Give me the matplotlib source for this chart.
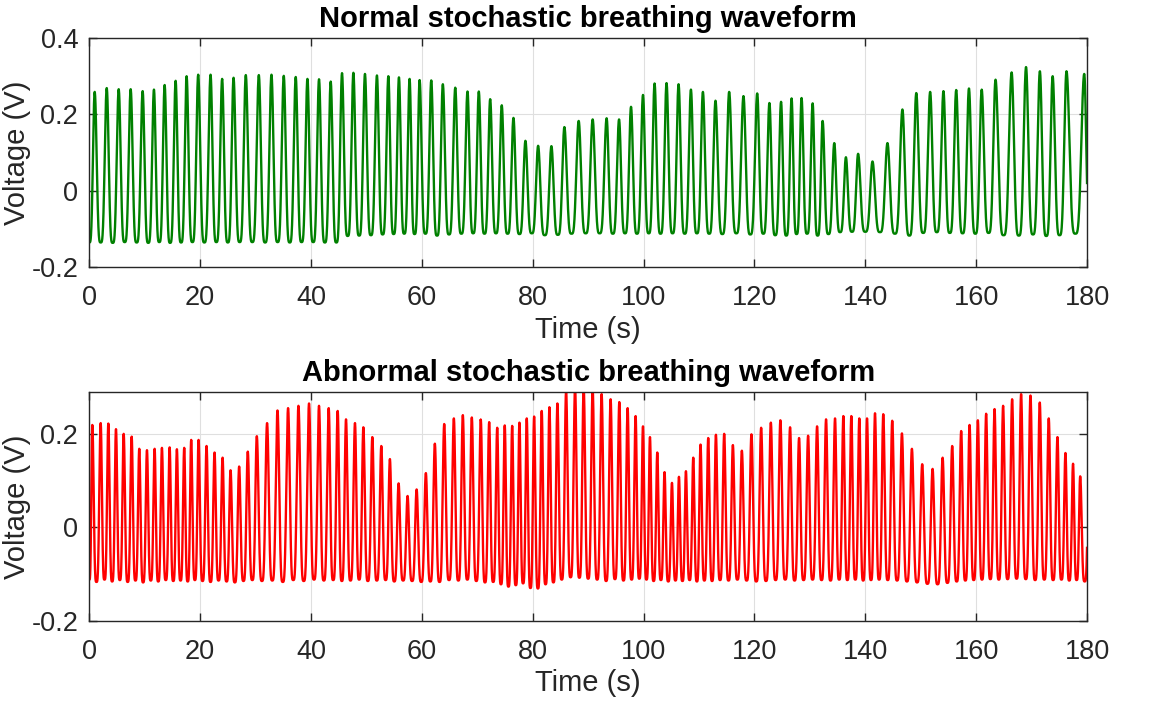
import numpy as np
import matplotlib
matplotlib.use('Agg')
import matplotlib.pyplot as plt

# normal breathing: peak times (s), peak voltages, trough after each peak
normal_peak_t = [0.97, 3.14, 5.30, 7.46, 9.62, 11.66, 13.59, 15.57, 17.55, 19.64,
                 21.87, 23.96, 26.02, 28.23, 30.58, 32.86, 35.08, 37.24, 39.35, 41.44,
                 43.55, 45.59, 47.64, 49.73, 51.89, 53.95, 55.86, 57.78, 59.59, 61.69,
                 63.78, 66.02, 68.23, 70.27, 72.32, 74.41, 76.52, 78.68, 80.97, 83.37,
                 85.71, 88.29, 90.81, 93.33, 95.57, 97.73, 99.89, 101.98, 104.14, 106.31,
                 108.54, 110.70, 112.97, 115.44, 118.02, 120.5, 122.7, 124.8, 126.7, 128.5,
                 130.5, 132.3, 134.4, 136.5, 138.7, 141.3, 144.0, 146.7, 149.2, 151.7,
                 154.1, 156.4, 158.7, 161.0, 163.5, 166.4, 169.0, 171.5, 173.8, 176.3,
                 179.5]
normal_peak_v = [0.259, 0.269, 0.266, 0.266, 0.261, 0.265, 0.277, 0.288, 0.300, 0.304,
                 0.304, 0.293, 0.296, 0.303, 0.303, 0.304, 0.301, 0.298, 0.293, 0.292,
                 0.286, 0.308, 0.309, 0.306, 0.302, 0.300, 0.297, 0.293, 0.290, 0.289,
                 0.279, 0.270, 0.260, 0.260, 0.240, 0.224, 0.191, 0.131, 0.118, 0.117,
                 0.167, 0.183, 0.187, 0.190, 0.187, 0.220, 0.251, 0.281, 0.282, 0.279,
                 0.265, 0.259, 0.236, 0.259, 0.248, 0.255, 0.230, 0.233, 0.242, 0.243,
                 0.229, 0.183, 0.125, 0.088, 0.097, 0.077, 0.125, 0.213, 0.256, 0.259,
                 0.261, 0.264, 0.268, 0.265, 0.291, 0.310, 0.324, 0.313, 0.300, 0.313,
                 0.306]
normal_trough_v = [-0.135, -0.136, -0.134, -0.135, -0.136, -0.134, -0.136, -0.135, -0.134, -0.135,
                   -0.134, -0.135, -0.134, -0.134, -0.135, -0.134, -0.135, -0.134, -0.134, -0.135,
                   -0.135, -0.118, -0.117, -0.116, -0.114, -0.113, -0.112, -0.113, -0.112, -0.117,
                   -0.114, -0.112, -0.111, -0.112, -0.111, -0.112, -0.113, -0.111, -0.116, -0.115,
                   -0.112, -0.111, -0.111, -0.112, -0.111, -0.112, -0.111, -0.112, -0.111, -0.112,
                   -0.111, -0.112, -0.113, -0.111, -0.114, -0.112, -0.116, -0.117, -0.113, -0.112,
                   -0.117, -0.113, -0.108, -0.107, -0.107, -0.108, -0.112, -0.117, -0.110, -0.108,
                   -0.110, -0.111, -0.112, -0.110, -0.116, -0.117, -0.114, -0.118, -0.116, -0.112,
                   -0.110]

# abnormal breathing
abn_peak_t = [0.54, 2.05, 3.43, 4.81, 6.20, 7.64, 9.01, 10.40, 11.78, 13.10,
              14.49, 15.80, 17.12, 18.38, 19.71, 21.15, 22.59, 24.04, 25.48, 27.03,
              28.59, 30.22, 32.07, 33.95, 35.86, 37.73, 39.64, 41.44, 43.19, 44.81,
              46.31, 47.93, 49.44, 51.06, 52.68, 54.23, 55.80, 57.42, 59.05, 60.72,
              62.34, 64.03, 65.77, 67.39, 69.01, 70.63, 72.14, 73.59, 74.95, 76.29,
              77.60, 78.92, 80.25, 81.62, 83.01, 84.45, 86.02, 87.64, 89.19, 90.81,
              92.43, 94.05, 95.62, 97.12, 98.56, 99.89, 101.15, 102.47, 103.78, 105.12,
              106.38, 107.64, 108.96, 110.27, 111.66, 113.05, 114.54, 116.11, 117.73, 119.46,
              121.21, 122.96, 124.68, 126.43, 128.05, 129.68, 131.30, 132.92, 134.54, 136.04,
              137.48, 138.92, 140.31, 141.75, 143.24, 144.86, 146.61, 148.41, 150.27, 152.14,
              153.95, 155.68, 157.30, 158.81, 160.31, 161.80, 163.32, 164.86, 166.49, 168.11,
              169.80, 171.48, 173.10, 174.67, 176.11, 177.48, 178.77, 180.4]
abn_peak_v = [0.219, 0.223, 0.222, 0.210, 0.200, 0.194, 0.168, 0.165, 0.168, 0.170,
              0.171, 0.167, 0.170, 0.187, 0.187, 0.174, 0.160, 0.149, 0.122, 0.130,
              0.162, 0.195, 0.223, 0.250, 0.255, 0.260, 0.265, 0.260, 0.255, 0.249,
              0.231, 0.223, 0.214, 0.193, 0.174, 0.146, 0.094, 0.067, 0.081, 0.116,
              0.179, 0.221, 0.233, 0.240, 0.235, 0.230, 0.225, 0.213, 0.218, 0.217,
              0.224, 0.233, 0.237, 0.249, 0.257, 0.265, 0.292, 0.300, 0.300, 0.296,
              0.285, 0.274, 0.268, 0.255, 0.238, 0.216, 0.193, 0.160, 0.118, 0.095,
              0.108, 0.120, 0.149, 0.177, 0.191, 0.198, 0.200, 0.176, 0.164, 0.199,
              0.213, 0.224, 0.229, 0.214, 0.191, 0.196, 0.216, 0.231, 0.233, 0.238,
              0.238, 0.233, 0.233, 0.244, 0.242, 0.228, 0.201, 0.168, 0.135, 0.125,
              0.149, 0.174, 0.206, 0.219, 0.229, 0.243, 0.253, 0.260, 0.274, 0.285,
              0.282, 0.267, 0.233, 0.193, 0.159, 0.136, 0.109, 0.150]
abn_trough_v = [-0.117, -0.112, -0.116, -0.113, -0.117, -0.114, -0.118, -0.114, -0.116, -0.113,
                -0.115, -0.114, -0.116, -0.113, -0.115, -0.117, -0.114, -0.116, -0.118, -0.115,
                -0.113, -0.115, -0.114, -0.117, -0.113, -0.115, -0.112, -0.114, -0.113, -0.115,
                -0.114, -0.112, -0.115, -0.114, -0.113, -0.116, -0.114, -0.115, -0.117, -0.116,
                -0.117, -0.113, -0.114, -0.112, -0.115, -0.118, -0.117, -0.122, -0.127, -0.124,
                -0.120, -0.130, -0.131, -0.122, -0.118, -0.112, -0.107, -0.108, -0.110, -0.112,
                -0.115, -0.111, -0.114, -0.112, -0.110, -0.112, -0.115, -0.113, -0.116, -0.114,
                -0.115, -0.113, -0.116, -0.114, -0.115, -0.113, -0.114, -0.112, -0.114, -0.116,
                -0.115, -0.113, -0.112, -0.114, -0.113, -0.112, -0.113, -0.114, -0.112, -0.113,
                -0.112, -0.114, -0.113, -0.112, -0.113, -0.114, -0.116, -0.118, -0.121, -0.122,
                -0.119, -0.116, -0.114, -0.113, -0.112, -0.111, -0.112, -0.111, -0.110, -0.111,
                -0.113, -0.112, -0.113, -0.112, -0.114, -0.113, -0.116, -0.115]


def breath_wave(peak_t, peak_v, trough_v, start_v):
    # join the read peaks and troughs with a smooth breath-shaped stroke
    ts, vs = [], []
    prev_t, prev_v = 0.0, start_v
    for i in range(len(peak_t)):
        # rise from previous trough to this peak
        s = np.linspace(0, 1, 40)
        w = ((1 - np.cos(np.pi * s)) / 2) ** 2
        ts.append(prev_t + (peak_t[i] - prev_t) * s)
        vs.append(prev_v + (peak_v[i] - prev_v) * w)
        if i + 1 < len(peak_t):
            tr_t = (peak_t[i] + peak_t[i + 1]) / 2
        else:
            tr_t = peak_t[i] + 1.1
        w = ((1 + np.cos(np.pi * s)) / 2) ** 2
        ts.append(peak_t[i] + (tr_t - peak_t[i]) * s)
        vs.append(trough_v[i] + (peak_v[i] - trough_v[i]) * w)
        prev_t, prev_v = tr_t, trough_v[i]
    return np.concatenate(ts), np.concatenate(vs)


plt.rcParams['font.family'] = ['Liberation Sans', 'DejaVu Sans']
plt.rcParams['axes.unicode_minus'] = False
dark = '#262626'

fig = plt.figure(figsize=(11.51, 7.04), dpi=100)
ax1 = fig.add_axes([0.0776, 0.6203, 0.8668, 0.3257])
ax2 = fig.add_axes([0.0776, 0.1183, 0.8668, 0.3245])

t1, v1 = breath_wave(normal_peak_t, normal_peak_v, normal_trough_v, -0.135)
t2, v2 = breath_wave(abn_peak_t, abn_peak_v, abn_trough_v, -0.112)

ax1.plot(t1, v1, color='#008000', lw=1.7)
ax2.plot(t2, v2, color='#ff0000', lw=1.7)

ax1.set_ylim(-0.2, 0.4)
ax1.set_yticks([-0.2, 0, 0.2, 0.4])
ax1.set_yticklabels(['-0.2', '0', '0.2', '0.4'])
ax2.set_ylim(-0.2, 0.289)
ax2.set_yticks([-0.2, 0, 0.2])
ax2.set_yticklabels(['-0.2', '0', '0.2'])

titles = ['Normal stochastic breathing waveform', 'Abnormal stochastic breathing waveform']
for ax, ttl in zip([ax1, ax2], titles):
    ax.set_xlim(0, 180)
    ax.set_xticks(np.arange(0, 181, 20))
    ax.grid(True, color='#dfdfdf', lw=0.8)
    ax.set_axisbelow(True)
    for sp in ax.spines.values():
        sp.set_color(dark)
        sp.set_linewidth(1.0)
    ax.tick_params(direction='in', length=6, width=1.0, colors=dark,
                   top=True, right=True, labelsize=19.5)
    ax.tick_params(axis='y', pad=8)
    ax.tick_params(axis='x', pad=13)
    ax.set_xlabel('Time (s)', fontsize=21, color=dark, labelpad=3)
    ax.set_ylabel('Voltage (V)', fontsize=21, color=dark, labelpad=0)
    ax.set_title(ttl, fontsize=21, fontweight='bold', pad=8)

fig.savefig('out.png', dpi=100)
